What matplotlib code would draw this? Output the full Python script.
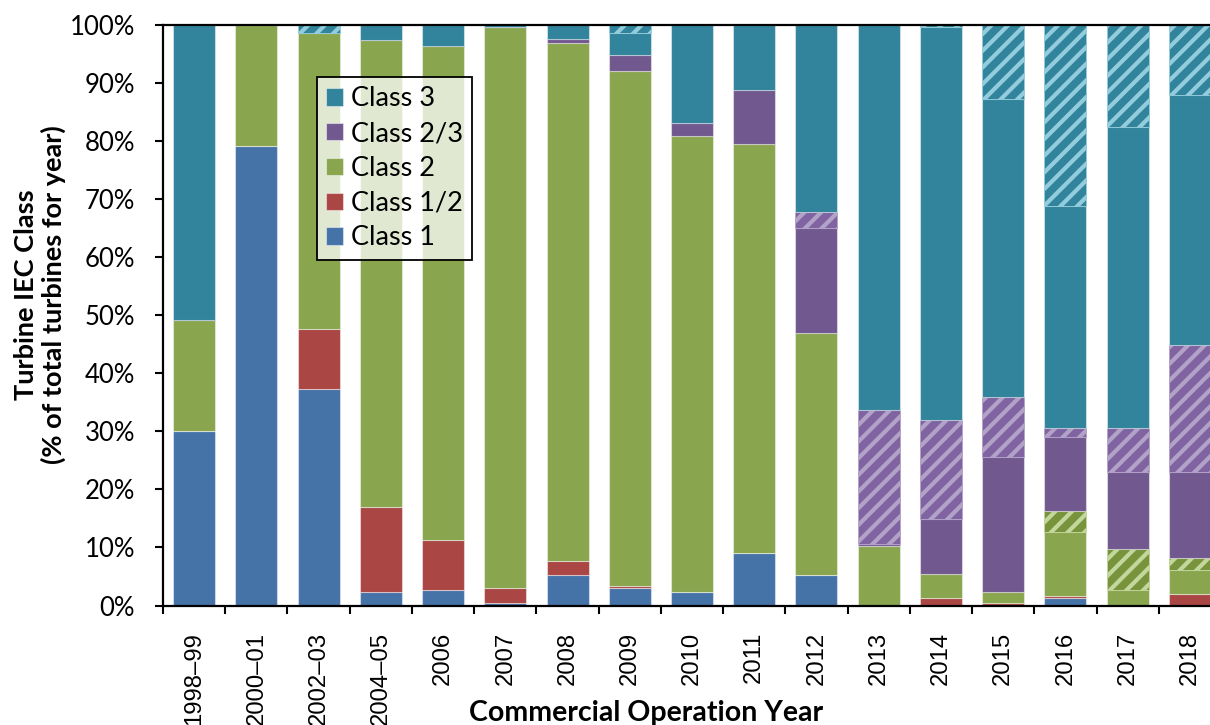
import numpy as np
import matplotlib
matplotlib.use("Agg")
import matplotlib.pyplot as plt

plt.rcParams['font.family'] = ['Lato', 'DejaVu Sans']
plt.rcParams['hatch.linewidth'] = 3.0

years = ['1998–99', '2000–01', '2002–03', '2004–05', '2006', '2007', '2008', '2009',
         '2010', '2011', '2012', '2013', '2014', '2015', '2016', '2017', '2018']

# share of turbines (%) per year, stacked bottom -> top
class1    = [30.1, 79.1, 37.3,  2.3,  2.6, 0.45,  5.2,  3.0,  2.3,  9.1,  5.2,  0.0,  0.0,  0.0,  1.3,  0.0,  0.0]
class12   = [ 0.0,  0.0, 10.4, 14.6,  8.6, 2.55,  2.4,  0.4,  0.0,  0.0,  0.0,  0.0,  1.3,  0.5,  0.3,  0.0,  1.9]
class2    = [19.0, 20.9, 51.0, 80.5, 85.1, 96.7, 89.3, 88.6, 78.6, 70.4, 41.8, 10.2,  4.2,  1.8, 11.1,  2.7,  4.2]
class2_h  = [ 0.0,  0.0,  0.0,  0.0,  0.0,  0.0,  0.0,  0.0,  0.0,  0.0,  0.0,  0.0,  0.0,  0.0,  3.6,  7.1,  2.0]
class23   = [ 0.0,  0.0,  0.0,  0.0,  0.0,  0.0,  0.7,  2.8,  2.2,  9.3, 18.1,  0.4,  9.4, 23.2, 12.8, 13.2, 14.9]
class23_h = [ 0.0,  0.0,  0.0,  0.0,  0.0,  0.0,  0.0,  0.0,  0.0,  0.0,  2.7, 23.1, 17.1, 10.4,  1.4,  7.5, 21.9]
class3    = [50.9,  0.0,  0.0,  2.6,  3.7,  0.3,  2.4,  3.9, 16.9, 11.2, 32.2, 66.3, 67.7, 51.4, 38.3, 51.9, 43.1]
class3_h  = [ 0.0,  0.0,  1.3,  0.0,  0.0,  0.0,  0.0,  1.3,  0.0,  0.0,  0.0,  0.0,  0.3, 12.7, 31.2, 17.6, 12.0]

# (values, face colour, hatch colour or None, legend label)
series = [
    (class1,    '#4572A7', None,      'Class 1'),
    (class12,   '#AA4643', None,      'Class 1/2'),
    (class2,    '#89A54E', None,      'Class 2'),
    (class2_h,  '#77933C', '#C3D69B', None),
    (class23,   '#71588F', None,      'Class 2/3'),
    (class23_h, '#8064A2', '#B3A2C7', None),
    (class3,    '#31849B', None,      'Class 3'),
    (class3_h,  '#31849B', '#93CDDD', None),
]

fig = plt.figure(figsize=(12.1, 7.25), dpi=100)
ax = fig.add_axes([163 / 1210, 1 - 605.5 / 725, 1058 / 1210, 580.5 / 725])

x = np.arange(len(years))
bottom = np.zeros(len(years))
handles = {}
for vals, col, hcol, lab in series:
    vals = np.array(vals)
    if hcol is None:
        b = ax.bar(x, vals, 0.675, bottom=bottom, color=col,
                   edgecolor=(1, 1, 1, 0.45), linewidth=0.8)
        handles[lab] = b
    else:
        ax.bar(x, vals, 0.675, bottom=bottom, color=col,
               edgecolor=hcol, linewidth=0.6, hatch='//')
    bottom += vals

ax.set_xlim(-0.5, len(years) - 0.5)
ax.set_ylim(0, 100)
ax.set_yticks(np.arange(0, 101, 10))
ax.set_yticklabels([f'{v}%' for v in range(0, 101, 10)], fontsize=18.5)
ax.tick_params(axis='y', length=6, width=1.5, pad=14)

ax.set_xticks(x)
ax.set_xticklabels(years, rotation=90, fontsize=17.2, family='Liberation Sans', va='top')
ax.set_xticks(np.arange(-0.5, len(years), 1), minor=True)
ax.tick_params(axis='x', which='major', length=0, pad=19)
ax.tick_params(axis='x', which='minor', length=6, width=1.5)

for s in ['left', 'bottom', 'top']:
    ax.spines[s].set_linewidth(1.6)
ax.spines['right'].set_visible(False)

order = ['Class 3', 'Class 2/3', 'Class 2', 'Class 1/2', 'Class 1']
leg = ax.legend([handles[k] for k in order], order, loc='upper left',
                bbox_to_anchor=(317 / 1210, 1 - 77 / 725), bbox_transform=fig.transFigure,
                fontsize=19.5, handlelength=0.6, handleheight=0.6, handletextpad=0.3,
                labelspacing=0.36, borderpad=0.35, fancybox=False, borderaxespad=0)
frame = leg.get_frame()
frame.set_alpha(None)
frame.set_facecolor((1, 1, 1, 0.75))
frame.set_edgecolor('black')
frame.set_linewidth(1.3)

fig.text(40 / 1210, 1 - 295 / 725, 'Turbine IEC Class\n(% of total turbines for year)',
         rotation=90, ha='center', va='center', multialignment='center',
         fontsize=19.5, fontweight='bold', linespacing=1.1)
fig.text(646 / 1210, 1 - 721 / 725, 'Commercial Operation Year', ha='center',
         va='baseline', fontsize=20.5, fontweight='bold')

fig.savefig('out.png', dpi=100)
